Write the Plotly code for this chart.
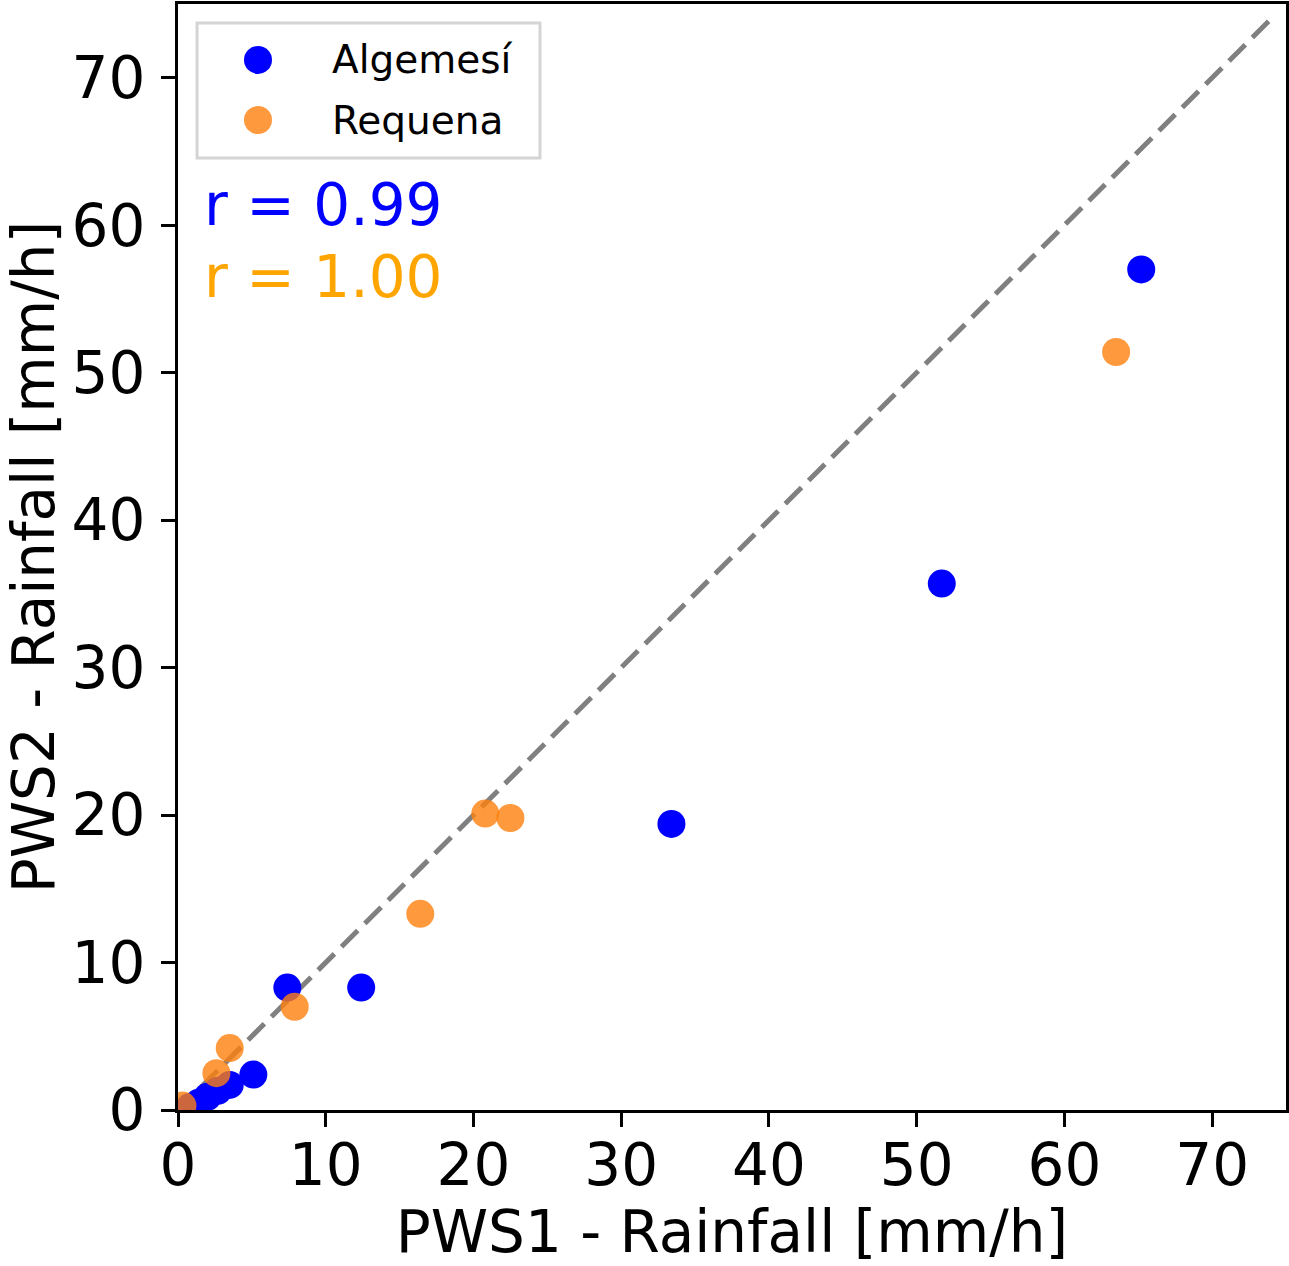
import plotly.graph_objects as go

# values
alg_x = [65.2, 51.7, 33.4, 12.4, 7.4, 5.1, 3.5, 2.7, 2.0, 1.4, 0.8]
alg_y = [57.0, 35.7, 19.4, 8.3, 8.3, 2.4, 1.7, 1.3, 0.9, 0.5, 0.2]
req_x = [63.5, 20.8, 22.5, 16.4, 7.9, 3.5, 2.6, 0.3]
req_y = [51.4, 20.1, 19.8, 13.3, 7.0, 4.2, 2.5, 0.3]
one_to_one = [0, 74]
r_alg, r_req = 0.99, 1.00
names = ["Algemesí", "Requena"]
colors = ["blue", "rgba(255,127,14,0.8)"]

FONT = "DejaVu Sans"

fig = go.Figure()
fig.add_trace(go.Scatter(
    x=one_to_one, y=one_to_one, mode="lines", showlegend=False,
    line=dict(color="gray", width=5, dash="23px,10px"), hoverinfo="skip"))
fig.add_trace(go.Scatter(
    x=alg_x, y=alg_y, mode="markers", name=names[0], showlegend=False,
    marker=dict(color=colors[0], size=28, line=dict(width=0))))
fig.add_trace(go.Scatter(
    x=req_x, y=req_y, mode="markers", name=names[1], showlegend=False,
    marker=dict(color=colors[1], size=28, line=dict(width=0))))

# hand-made legend so the symbols can be as big as in matplotlib
fig.add_shape(type="rect", xref="paper", yref="paper", x0=0.0172, x1=0.3267, y0=0.8608, y1=0.9828,
              line=dict(color="#d4d4d4", width=3), fillcolor="rgba(255,255,255,0.8)")
for i, (nm, col) in enumerate(zip(names, colors)):
    yy = 0.9494 - i * 0.0543
    fig.add_shape(type="circle", xref="paper", yref="paper",
                  xsizemode="pixel", ysizemode="pixel", xanchor=0.0722, yanchor=yy,
                  x0=-14, x1=14, y0=-14, y1=14, fillcolor=col, line=dict(width=0))
    fig.add_annotation(x=0.1372, y=yy, xref="paper", yref="paper", xanchor="left", yanchor="middle",
                       text=nm, showarrow=False, font=dict(size=39, color="black", family=FONT))

fig.add_annotation(x=0.0215, y=0.8185, xref="paper", yref="paper", xanchor="left", yanchor="middle",
                   text=f"r = {r_alg:.2f}", showarrow=False, font=dict(size=58, color="blue", family=FONT))
fig.add_annotation(x=0.0215, y=0.753, xref="paper", yref="paper", xanchor="left", yanchor="middle",
                   text=f"r = {r_req:.2f}", showarrow=False, font=dict(size=58, color="orange", family=FONT))

axis = dict(range=[0, 75], tickvals=[0, 10, 20, 30, 40, 50, 60, 70],
            showgrid=False, zeroline=False, showline=True, linecolor="black", linewidth=3,
            mirror=True, ticks="outside", ticklen=14, tickwidth=3, tickcolor="black",
            tickfont=dict(size=58, color="black", family=FONT), automargin=False)

fig.update_layout(
    width=1289, height=1266,
    margin=dict(l=178, r=3, t=4, b=156),
    plot_bgcolor="white", paper_bgcolor="white",
    font=dict(family=FONT, color="black"),
    xaxis=dict(axis, ticklabelstandoff=-12,
               title=dict(text="PWS1 - Rainfall [mm/h]", font=dict(size=58), standoff=22)),
    yaxis=dict(axis, ticklabelstandoff=4,
               title=dict(text="PWS2 - Rainfall [mm/h]", font=dict(size=58), standoff=34)),
    showlegend=False,
)

# drop the browser's default 8px body margin so the figure sits at the page corner
fig.write_html("out.html", config={"displayModeBar": False},
               post_script="document.body.style.margin='0';")
